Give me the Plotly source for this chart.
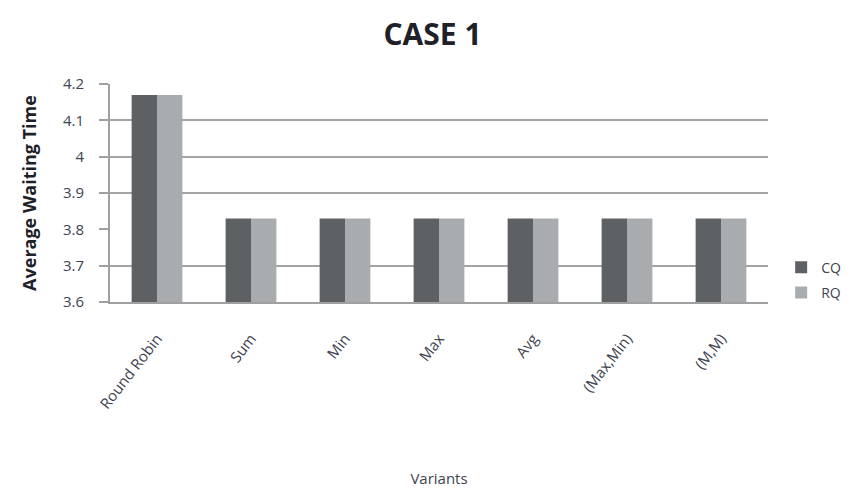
import plotly.graph_objects as go

# Average waiting time per scheduling variant
variants = ["Round Robin", "Sum", "Min", "Max", "Avg", "(Max,Min)", "(M,M)"]
cq_values = [4.17, 3.83, 3.83, 3.83, 3.83, 3.83, 3.83]
rq_values = [4.17, 3.83, 3.83, 3.83, 3.83, 3.83, 3.83]
y_ticks = [3.6, 3.7, 3.8, 3.9, 4.0, 4.1, 4.2]
y_tick_text = ["3.6", "3.7", "3.8", "3.9", "4", "4.1", "4.2"]
grid_ticks = [3.6, 3.7, 3.9, 4.0, 4.1, 4.2]

FONT = "Open Sans, Liberation Sans, sans-serif"
label_font = dict(family=FONT, size=15, color="#3e4350")

fig = go.Figure()
fig.add_trace(go.Bar(x=variants, y=cq_values, name="CQ", marker_color="#5e6163",
                     marker_line_width=0, legendgroup="cq"))
fig.add_trace(go.Bar(x=variants, y=rq_values, name="RQ", marker_color="#a9acaf",
                     marker_line_width=0, legendgroup="rq"))
# transparent companion trace so the grid-only axis gets rendered
fig.add_trace(go.Scatter(x=variants, y=cq_values, yaxis="y2", mode="markers",
                         marker=dict(opacity=0), showlegend=False, hoverinfo="skip"))

fig.update_layout(
    width=865, height=494,
    margin=dict(l=110, r=97, t=84, b=192),
    paper_bgcolor="white", plot_bgcolor="white",
    title=dict(text="<b>CASE 1</b>", x=0.5, xanchor="center", y=0.93, yanchor="middle",
               font=dict(family=FONT, size=30, color="#1e2128")),
    barmode="group", bargap=0.46, bargroupgap=0,
    showlegend=True,
    legend=dict(x=1.02, y=0.10, xanchor="left", yanchor="middle",
                font=dict(family=FONT, size=14, color="#3e4350"),
                tracegroupgap=4, itemwidth=30),
    xaxis=dict(
        tickangle=-52, tickfont=label_font, ticklabelstandoff=20,
        showline=True, linecolor="#a0a0a0", linewidth=2,
        showgrid=False, ticks="", automargin=False,
        title=dict(text="Variants", font=label_font, standoff=62),
    ),
    # labelled axis carrying the bars
    yaxis=dict(
        range=[3.6, 4.2],
        tickvals=y_ticks, ticktext=y_tick_text, tickfont=label_font,
        ticklabelstandoff=12, automargin=False,
        showgrid=False, zeroline=False,
        showline=True, linecolor="#a0a0a0", linewidth=2,
        ticks="outside", ticklen=9, tickcolor="#a0a0a0", tickwidth=2,
        title=dict(text="<b>Average Waiting Time</b>",
                   font=dict(family=FONT, size=18, color="#1e2128"),
                   standoff=22),
    ),
    # grid-only axis drawn beneath the bars
    yaxis2=dict(
        overlaying="y", side="left", range=[3.6, 4.2],
        tickvals=grid_ticks, showticklabels=False, automargin=False,
        showgrid=True, gridcolor="#a4a4a4", gridwidth=2,
        zeroline=False, ticks="", showline=False,
    ),
)

fig.write_html("out.html")
